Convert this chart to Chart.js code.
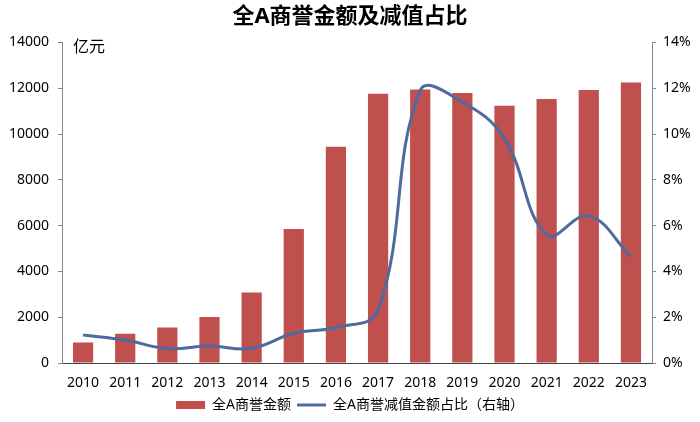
<!DOCTYPE html>
<html>
<head>
<meta charset="utf-8">
<script src="https://cdn.jsdelivr.net/npm/chart.js@4/dist/chart.umd.min.js"></script>
<style>
    html, body { margin: 0; padding: 0; background: #fff; }
    #box { width: 700px; height: 422px; }
</style>
</head>
<body>
<div id="box"><canvas id="grafico"></canvas></div>
<script>
// =============================
// DADOS
// =============================

const anos = ['2010', '2011', '2012', '2013', '2014', '2015', '2016', '2017', '2018', '2019', '2020', '2021', '2022', '2023'];

// 全A商誉金额 (亿元)
const valoresGoodwill = [890, 1280, 1545, 2010, 3080, 5850, 9440, 11760, 11945, 11790, 11230, 11530, 11920, 12250];

// 全A商誉减值金额占比 (%)
const valoresPercentual = [1.22, 1.0, 0.63, 0.74, 0.64, 1.3, 1.55, 2.3, 11.9, 11.4, 9.8, 5.6, 6.43, 4.64];

const ticksEsquerda = [0, 2000, 4000, 6000, 8000, 10000, 12000, 14000];
const ticksDireita = [0, 2, 4, 6, 8, 10, 12, 14];

const FONTE = "'Noto Sans', 'Noto Sans CJK SC', sans-serif";
const VERMELHO = '#C0504D';
const AZUL = '#4E6A9E';


// =============================
// PLUGIN: UNIDADE 亿元
// =============================

const unidadePlugin = {
    id: 'unidade',
    afterDraw(chart) {
        const ctx = chart.ctx;
        ctx.save();
        ctx.font = '16px ' + FONTE;
        ctx.fillStyle = '#000';
        ctx.textBaseline = 'middle';
        ctx.fillText('亿元', chart.chartArea.left + 11, chart.chartArea.top + 5);
        ctx.restore();
    }
};


// =============================
// GRÁFICO
// =============================

const ctx = document.getElementById('grafico');

new Chart(ctx, {
    data: {
        labels: anos,
        datasets: [
            {
                type: 'line',
                label: '全A商誉减值金额占比（右轴）',
                data: valoresPercentual,
                yAxisID: 'y1',
                borderColor: AZUL,
                backgroundColor: AZUL,
                borderWidth: 3,
                pointRadius: 0,
                tension: 0.4,
                order: 0
            },
            {
                type: 'bar',
                label: '全A商誉金额',
                data: valoresGoodwill,
                yAxisID: 'y',
                backgroundColor: VERMELHO,
                borderWidth: 0,
                barPercentage: 0.48,
                categoryPercentage: 1,
                order: 1
            }
        ]
    },
    options: {
        responsive: true,
        maintainAspectRatio: false,
        animation: false,
        layout: { padding: 0 },
        plugins: {
            title: {
                display: true,
                text: '全A商誉金额及减值占比',
                color: '#000',
                font: { family: FONTE, size: 22, weight: 'bold' },
                padding: { top: 4, bottom: 12 }
            },
            legend: {
                position: 'bottom',
                reverse: true,
                labels: {
                    color: '#000',
                    font: { family: FONTE, size: 14 },
                    usePointStyle: true,
                    pointStyleWidth: 29,
                    boxHeight: 8,
                    padding: 6,
                    generateLabels(chart) {
                        const itens = Chart.defaults.plugins.legend.labels.generateLabels(chart);
                        itens.forEach(item => {
                            if (item.datasetIndex === 0) {
                                item.pointStyle = 'line';
                                item.lineWidth = 3;
                            } else {
                                item.pointStyle = 'rect';
                                item.lineWidth = 0;
                            }
                        });
                        return itens;
                    }
                }
            },
            tooltip: { enabled: false }
        },
        scales: {
            x: {
                grid: { display: false },
                border: { display: true, color: '#444', width: 1 },
                ticks: {
                    color: '#000',
                    font: { family: FONTE, size: 14 },
                    maxRotation: 0,
                    padding: 4
                },
                afterFit(scale) { scale.height = 29; }
            },
            y: {
                position: 'left',
                min: 0,
                max: 14000,
                afterBuildTicks(scale) {
                    scale.ticks = ticksEsquerda.map(v => ({ value: v }));
                },
                grid: { display: true, drawOnChartArea: false, drawTicks: true, tickLength: 4, color: '#888' },
                border: { display: true, color: '#888', width: 1 },
                ticks: {
                    color: '#000',
                    font: { family: FONTE, size: 14 },
                    padding: 9,
                    callback: v => String(v)
                },
                afterFit(scale) { scale.width = 62; }
            },
            y1: {
                position: 'right',
                min: 0,
                max: 14,
                afterBuildTicks(scale) {
                    scale.ticks = ticksDireita.map(v => ({ value: v }));
                },
                grid: { display: true, drawOnChartArea: false, drawTicks: true, tickLength: 4, color: '#888' },
                border: { display: true, color: '#888', width: 1 },
                ticks: {
                    color: '#000',
                    font: { family: FONTE, size: 14 },
                    padding: 7,
                    callback: v => v + '%'
                },
                afterFit(scale) { scale.width = 48; }
            }
        }
    },
    plugins: [unidadePlugin]
});
</script>
</body>
</html>
